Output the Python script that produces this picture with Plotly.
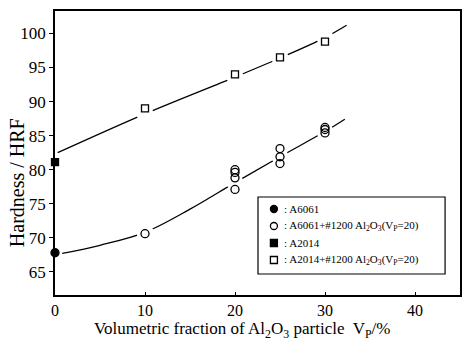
import plotly.graph_objects as go

# ---- data ----
a6061_x = [0]
a6061_y = [67.8]
a6061c_x = [10, 20, 20, 20, 20, 25, 25, 25, 30, 30, 30]
a6061c_y = [70.6, 77.1, 78.8, 79.6, 80.0, 80.9, 81.9, 83.1, 85.4, 85.9, 86.2]
a2014_x = [0]
a2014_y = [81.1]
a2014c_x = [10, 20, 25, 30]
a2014c_y = [89.0, 94.0, 96.5, 98.8]

# fitted curves
fit_low_x = [0.8, 5, 10, 15, 20, 25, 30, 32.2]
fit_low_y = [67.7, 68.9, 70.8, 74.2, 78.1, 81.9, 85.6, 87.4]
fit_up_x = [0.3, 10, 20, 25, 30, 32.4]
fit_up_y = [82.5, 88.2, 93.6, 96.4, 99.4, 101.2]
mask_low_idx = [2, 4, 5, 6]
mask_up_idx = [1, 2, 3, 4]

x_ticks = [0, 10, 20, 30, 40]
y_ticks = [65, 70, 75, 80, 85, 90, 95, 100]

legend_kinds = ["circle", "circle-open", "square", "square-open"]
legend_labels = [
    ": A6061",
    ": A6061+#1200 Al<sub>2</sub>O<sub>3</sub>(V<sub>P</sub>=20)",
    ": A2014",
    ": A2014+#1200 Al<sub>2</sub>O<sub>3</sub>(V<sub>P</sub>=20)",
]

FONT = "Liberation Serif"
# plot area in pixels: x 55..462, y 11..295
PL, PR, PT, PB = 55, 462, 11, 295
def px(x):
    return (x - PL) / (PR - PL)
def py(y):
    return (PB - y) / (PB - PT)

fig = go.Figure()

for fx, fy in [(fit_low_x, fit_low_y), (fit_up_x, fit_up_y)]:
    fig.add_trace(go.Scatter(x=fx, y=fy, mode="lines", line=dict(color="black", width=1.3, shape="spline"),
                             showlegend=False, hoverinfo="skip"))
# white masks making gaps around markers
mx = [fit_low_x[i] for i in mask_low_idx] + [fit_up_x[i] for i in mask_up_idx]
my = [fit_low_y[i] for i in mask_low_idx] + [fit_up_y[i] for i in mask_up_idx]
fig.add_trace(go.Scatter(x=mx, y=my, mode="markers", marker=dict(color="white", size=17, line=dict(width=0)),
                         showlegend=False, hoverinfo="skip"))

mk = dict(size=8, line=dict(color="black", width=1.3))
fig.add_trace(go.Scatter(x=a6061_x, y=a6061_y, mode="markers", showlegend=False,
                         marker=dict(symbol="circle", color="black", **mk), cliponaxis=False))
fig.add_trace(go.Scatter(x=a6061c_x, y=a6061c_y, mode="markers", showlegend=False,
                         marker=dict(symbol="circle-open", color="black", **mk), cliponaxis=False))
fig.add_trace(go.Scatter(x=a2014_x, y=a2014_y, mode="markers", showlegend=False,
                         marker=dict(symbol="square", color="black", size=7, line=dict(color="black", width=1.3)),
                         cliponaxis=False))
fig.add_trace(go.Scatter(x=a2014c_x, y=a2014c_y, mode="markers", showlegend=False,
                         marker=dict(symbol="square-open", color="black", size=7, line=dict(color="black", width=1.3)),
                         cliponaxis=False))

annotations = [
    dict(text="Volumetric fraction of Al<sub>2</sub>O<sub>3</sub> particle  V<sub>P</sub>/%",
         xref="paper", yref="paper", x=px(243), y=py(343), xanchor="center", yanchor="bottom",
         showarrow=False, font=dict(size=17, family=FONT)),
    dict(text="Hardness / HRF", xref="paper", yref="paper", x=px(17), y=py(183),
         xanchor="center", yanchor="middle", textangle=-90, showarrow=False,
         font=dict(size=20, family=FONT)),
]
shapes = [dict(type="rect", xref="paper", yref="paper", x0=px(259), x1=px(447), y0=py(274), y1=py(197),
               line=dict(color="black", width=1.2), fillcolor="white", layer="above")]
row_y = [209, 226, 243, 260]
for kind, lab, ry in zip(legend_kinds, legend_labels, row_y):
    filled = not kind.endswith("open")
    shp = "circle" if kind.startswith("circle") else "rect"
    shapes.append(dict(type=shp, xref="paper", yref="paper", xsizemode="pixel", ysizemode="pixel",
                       xanchor=px(275), yanchor=py(ry), x0=-3.5, x1=3.5, y0=-3.5, y1=3.5,
                       line=dict(color="black", width=1.3),
                       fillcolor="black" if filled else "white", layer="above"))
    annotations.append(dict(text=lab, xref="paper", yref="paper", x=px(283), y=py(ry),
                            xanchor="left", yanchor="middle", showarrow=False,
                            font=dict(size=11, family=FONT)))

fig.update_layout(
    width=463, height=343,
    margin=dict(l=PL, r=463 - PR, t=PT, b=343 - PB),
    paper_bgcolor="white", plot_bgcolor="white",
    font=dict(family=FONT, color="black", size=16),
    showlegend=False,
    xaxis=dict(range=[0, 45], tickvals=x_ticks, ticks="inside", ticklen=3, tickcolor="black",
               showline=True, linecolor="black", linewidth=1.5, mirror=True, showgrid=False,
               zeroline=False, tickfont=dict(size=16, family=FONT)),
    yaxis=dict(range=[61.6, 103.3], tickvals=y_ticks, ticks="outside", ticklen=4, tickcolor="black",
               showline=True, linecolor="black", linewidth=1.5, mirror=True, showgrid=False,
               zeroline=False, tickfont=dict(size=17, family=FONT)),
    shapes=shapes,
    annotations=annotations,
)

fig.write_html("out.html")
